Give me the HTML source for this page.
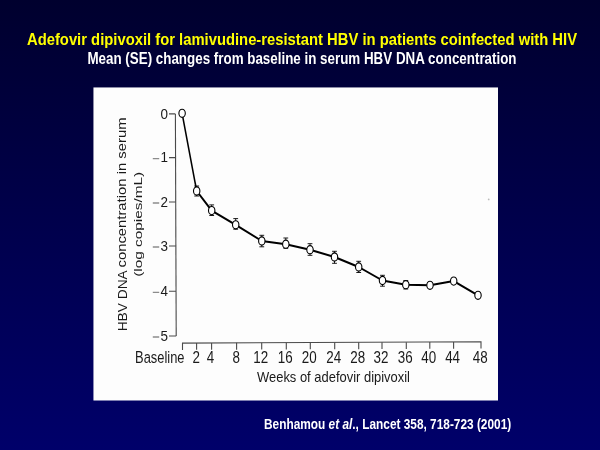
<!DOCTYPE html>
<html><head><meta charset="utf-8">
<style>
html,body{margin:0;padding:0;}
body{width:600px;height:450px;overflow:hidden;position:relative;
background:linear-gradient(to bottom,#00002e 0%,#00006a 100%);
font-family:"Liberation Sans",sans-serif;}
.t{position:absolute;white-space:nowrap;line-height:1;will-change:transform;}
#title{left:2px;width:600px;text-align:center;top:31px;font-weight:bold;font-size:14.8px;color:#ffff00;transform:scaleY(1.16);transform-origin:0 0;}
#sub{left:2.4px;width:600px;text-align:center;top:50.7px;font-weight:bold;font-size:13.38px;color:#ffffff;transform:scaleY(1.17);transform-origin:0 0;}
#cite{left:264px;top:419px;font-weight:bold;font-size:11.86px;color:#ffffff;transform:scaleY(1.16);transform-origin:0 0;}

svg{position:absolute;left:0;top:0;will-change:transform;}
.lab{font-family:"Liberation Sans",sans-serif;fill:#1a1a1a;}
</style></head><body>
<div id="title" class="t">Adefovir dipivoxil for lamivudine-resistant HBV in patients coinfected with HIV</div>
<div id="sub" class="t">Mean (SE) changes from baseline in serum HBV DNA concentration</div>
<svg width="600" height="450" viewBox="0 0 600 450">
<rect x="93.45" y="87.45" width="404.55" height="313.05" fill="#fdfdfd"/>
<g stroke="#4a4a4a" stroke-width="1.1" fill="none">
<path d="M175.4 113.9 L176.2 336"/>
<path d="M169 113.9 H175.4 M169 157.6 H175.56 M169 202 H175.72 M169 246 H175.88 M169 291.3 H176.04 M169 336 H176.2"/>
<path d="M182.5 350.1 V343.1 L481 341.8 V348.6"/>
<path d="M196.6 343.04 V349.84 M211.6 342.97 V349.77 M236.6 342.87 V349.67 M261.7 342.76 V349.56 M286.3 342.65 V349.45 M310.3 342.54 V349.34 M334.7 342.44 V349.24 M358.7 342.33 V349.13 M382 342.23 V349.03 M406.3 342.13 V348.93 M429.8 342.02 V348.82 M453.6 341.92 V348.72"/>
</g>
<g class="lab" font-size="15.3" text-anchor="end" transform="scale(0.88,1)">
<text x="190.91" y="118.9">0</text>
<text x="190.91" y="161.8">1</text>
<text x="190.91" y="207">2</text>
<text x="190.91" y="251">3</text>
<text x="190.91" y="296.3">4</text>
<text x="190.91" y="341">5</text>
</g>
<path stroke="#8c8c8c" stroke-width="1.3" fill="none" d="M152.8 158.6 H159.2 M152.8 203 H159.2 M152.8 247 H159.2 M152.8 292.3 H159.2 M152.8 337 H159.2"/>
<g class="lab" font-size="15.6" text-anchor="middle" transform="scale(0.86,1)">
<text x="185.81" y="363.4" textLength="57.5" lengthAdjust="spacingAndGlyphs">Baseline</text>
<text x="228.26" y="363.4">2</text>
<text x="244.88" y="363.4">4</text>
<text x="274.77" y="363.4">8</text>
<text x="303.14" y="363.4">12</text>
<text x="331.74" y="363.4">16</text>
<text x="359.65" y="363.4">20</text>
<text x="388.02" y="363.4">24</text>
<text x="415.93" y="363.4">28</text>
<text x="443.02" y="363.4">32</text>
<text x="471.28" y="363.4">36</text>
<text x="498.6" y="363.4">40</text>
<text x="526.28" y="363.4">44</text>
<text x="558.37" y="363.4">48</text>
</g>
<text class="lab" x="257" y="381.7" font-size="13.9" textLength="153" lengthAdjust="spacingAndGlyphs">Weeks of adefovir dipivoxil</text>
<text class="lab" font-size="12.3" text-anchor="start" textLength="61" lengthAdjust="spacingAndGlyphs" transform="translate(126.7,331.3) rotate(-90)">HBV DNA</text>
<text class="lab" font-size="13.3" text-anchor="start" textLength="150" lengthAdjust="spacingAndGlyphs" transform="translate(125.9,267.5) rotate(-90)">concentration in serum</text>
<text class="lab" font-size="11.8" text-anchor="middle" textLength="105" lengthAdjust="spacingAndGlyphs" transform="translate(141.5,224.3) rotate(-90)">(log copies/mL)</text>
<path d="M182.1 113.3 L196.7 191" stroke="#000" stroke-width="1.5" fill="none"/>
<path d="M196.7 191 L211.7 210.6 L235.7 224.8 L261.8 241 L285.8 244.2 L310 249.7 L334.5 257 L358.7 267 L382.5 280.5 L405.8 284.7 L430 285.3 L453.7 281.1 L478 295.3" stroke="#000" stroke-width="2" fill="none" stroke-linejoin="round"/>
<circle cx="488.7" cy="199.4" r="0.9" fill="#bbb"/>
<g stroke="#000" stroke-width="0.9" fill="none">
<path d="M196.7 186 V196 M194.3 186 H199.1 M194.3 196 H199.1"/>
<path d="M211.7 204.9 V215.5 M209.3 204.9 H214.1 M209.3 215.5 H214.1"/>
<path d="M235.7 218.6 V229.2 M233.3 218.6 H238.1 M233.3 229.2 H238.1"/>
<path d="M261.8 235.3 V246.8 M259.4 235.3 H264.2 M259.4 246.8 H264.2"/>
<path d="M285.8 238 V248.3 M283.4 238 H288.2 M283.4 248.3 H288.2"/>
<path d="M310 243.7 V255.3 M307.6 243.7 H312.4 M307.6 255.3 H312.4"/>
<path d="M334.5 251.3 V263.3 M332.1 251.3 H336.9 M332.1 263.3 H336.9"/>
<path d="M358.7 261.3 V272.5 M356.3 261.3 H361.1 M356.3 272.5 H361.1"/>
<path d="M382.5 275.3 V286.2 M380.1 275.3 H384.9 M380.1 286.2 H384.9"/>
<path d="M405.8 280.5 V289 M403.4 280.5 H408.2 M403.4 289 H408.2"/>
</g>
<g stroke="#000" stroke-width="1.1" fill="#fff">
<ellipse cx="182.1" cy="113.3" rx="3.2" ry="4.1"/>
<ellipse cx="196.7" cy="191" rx="3.2" ry="4.1"/>
<ellipse cx="211.7" cy="210.6" rx="3.2" ry="4.1"/>
<ellipse cx="235.7" cy="224.8" rx="3.2" ry="4.1"/>
<ellipse cx="261.8" cy="241" rx="3.2" ry="4.1"/>
<ellipse cx="285.8" cy="244.2" rx="3.2" ry="4.1"/>
<ellipse cx="310" cy="249.7" rx="3.2" ry="4.1"/>
<ellipse cx="334.5" cy="257" rx="3.2" ry="4.1"/>
<ellipse cx="358.7" cy="267" rx="3.2" ry="4.1"/>
<ellipse cx="382.5" cy="280.5" rx="3.2" ry="4.1"/>
<ellipse cx="405.8" cy="284.7" rx="3.2" ry="4.1"/>
<ellipse cx="430" cy="285.3" rx="3.2" ry="4.1"/>
<ellipse cx="453.7" cy="281.1" rx="3.2" ry="4.1"/>
<ellipse cx="478" cy="295.3" rx="3.2" ry="4.1"/>
</g>
</svg>
<div id="cite" class="t">Benhamou <i>et al</i>., Lancet 358, 718-723 (2001)</div>
</body></html>
